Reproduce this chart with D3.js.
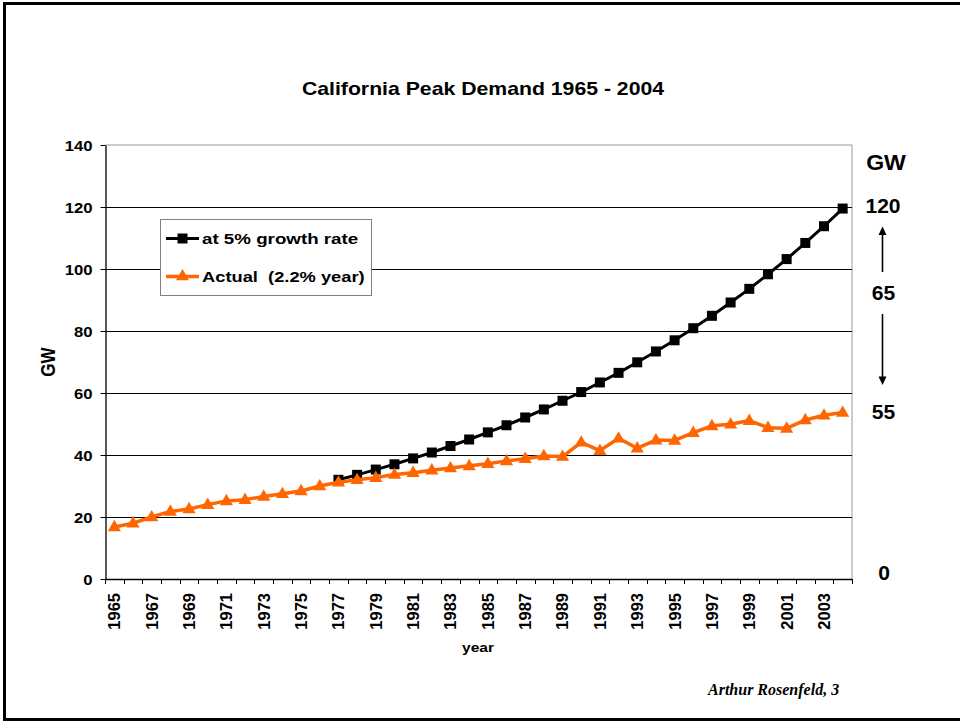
<!DOCTYPE html>
<html><head><meta charset="utf-8">
<script src="https://cdn.jsdelivr.net/npm/d3@7"></script>
<style>html,body{margin:0;padding:0;background:#fff;}svg{display:block;}text{white-space:pre;}</style>
</head><body>
<svg id="chart" width="960" height="721"></svg>
<script>
const years = [1965,1966,1967,1968,1969,1970,1971,1972,1973,1974,1975,1976,1977,1978,1979,1980,1981,1982,1983,1984,1985,1986,1987,1988,1989,1990,1991,1992,1993,1994,1995,1996,1997,1998,1999,2000,2001,2002,2003,2004];
const growth5 = [null,null,null,null,null,null,null,null,null,null,null,null,
  32.0,33.6,35.3,37.0,38.9,40.8,42.9,45.0,47.3,49.6,52.1,54.7,57.5,60.3,63.4,66.5,69.9,73.4,77.0,80.9,84.9,89.2,93.6,98.3,103.2,108.4,113.8,119.5];
const actual = [16.8,18.0,20.0,21.8,22.6,24.0,25.2,25.6,26.6,27.5,28.4,30.0,31.2,32.0,32.7,33.7,34.3,35.1,35.8,36.5,37.2,38.1,38.8,39.7,39.5,44.1,41.4,45.4,42.2,44.8,44.7,47.2,49.4,49.9,51.1,48.8,48.6,51.3,52.8,53.7];
const yTicks = [0,20,40,60,80,100,120,140];
const xLabelYears = [1965,1967,1969,1971,1973,1975,1977,1979,1981,1983,1985,1987,1989,1991,1993,1995,1997,1999,2001,2003];
const seriesNames = ["at 5% growth rate","Actual  (2.2% year)"];
const rightLabels = ["GW","120","65","55","0"];
const titleText = "California Peak Demand 1965 - 2004";

const FONT = "'Liberation Sans', Arial, sans-serif";
const svg = d3.select("#chart");
const L = 105, R = 852, T = 145, B = 579;
const ORANGE = "#FF6600";

// slide border
svg.append("rect").attr("x",4.5).attr("y",3.5).attr("width",962).attr("height",716)
  .attr("fill","none").attr("stroke","#000").attr("stroke-width",3);

const x = d3.scaleBand().domain(years).range([L,R]).padding(0);
const y = d3.scaleLinear().domain([0,140]).range([B,T]);
const cx = d => x(d) + x.bandwidth()/2;

function txt(g, o){
  const t = g.append("text").text(o.text)
    .attr("font-family", o.family || FONT)
    .attr("font-weight", o.weight || "bold")
    .attr("font-style", o.style || "normal")
    .attr("font-size", o.size)
    .attr("text-anchor", o.anchor || "start")
    .attr("fill", o.fill || "#000");
  let tr = `translate(${o.x},${o.y})`;
  if (o.sx && o.sx !== 1) tr += ` scale(${o.sx},1)`;
  if (o.rot) tr += ` rotate(${o.rot})`;
  t.attr("transform", tr);
  if (o.dy) t.attr("dy", o.dy);
  return t;
}

// title
txt(svg,{text:titleText,x:483,y:94.5,size:18,sx:1.18,anchor:"middle"});

// plot area border (top/right gray)
svg.append("path").attr("d",`M${L},${T}H${R}V${B}`).attr("fill","none")
  .attr("stroke","#9a9a9a").attr("stroke-width",1);

// gridlines
svg.append("g").selectAll("line").data(yTicks.filter(v=>v>0 && v<140)).join("line")
  .attr("x1",L).attr("x2",R).attr("y1",d=>Math.round(y(d))+0.5).attr("y2",d=>Math.round(y(d))+0.5)
  .attr("stroke","#000").attr("stroke-width",1);

// y axis
const yAxis = svg.append("g").attr("transform",`translate(${L+0.5},0)`)
  .call(d3.axisLeft(y).tickValues(yTicks).tickSize(5).tickSizeOuter(0));
yAxis.select(".domain").attr("stroke","#000").attr("stroke-width",1.3);
yAxis.selectAll(".tick line").attr("stroke","#000");
yAxis.selectAll(".tick text")
  .attr("font-family",FONT).attr("font-weight","bold").attr("font-size",14.5)
  .attr("fill","#000").attr("x",-11.3).attr("dy","0.36em")
  .attr("transform","scale(1.15,1)");

// x axis line
svg.append("line").attr("x1",L).attr("x2",R).attr("y1",B+0.5).attr("y2",B+0.5)
  .attr("stroke","#000").attr("stroke-width",1.3);
// x ticks at band boundaries
const bounds = years.map(d=>x(d)).concat([x(years[years.length-1])+x.bandwidth()]);
svg.append("g").selectAll("line").data(bounds).join("line")
  .attr("x1",d=>Math.round(d)+0.5).attr("x2",d=>Math.round(d)+0.5)
  .attr("y1",B).attr("y2",B+5).attr("stroke","#000").attr("stroke-width",1);
// x labels
const xl = svg.append("g");
xLabelYears.forEach(yr=>{
  txt(xl,{text:String(yr),x:cx(yr),y:B+14,size:16.5,anchor:"end",rot:-90,dy:"0.36em"});
});

// axis titles
txt(svg,{text:"year",x:478,y:652,size:13,sx:1.2,anchor:"middle"});
txt(svg,{text:"GW",x:48,y:362,size:17,sx:1.2,anchor:"middle",rot:-90,dy:"0.36em"});

// lines
const lineGen = d3.line().defined(d=>d.v!=null).x(d=>cx(d.yr)).y(d=>y(d.v));
const gData = years.map((yr,i)=>({yr, v:growth5[i]}));
const aData = years.map((yr,i)=>({yr, v:actual[i]}));

const tri = d3.symbol().type(d3.symbolTriangle).size(75);

svg.append("path").datum(gData).attr("d",lineGen).attr("fill","none")
  .attr("stroke","#000").attr("stroke-width",3).attr("stroke-linejoin","round");
svg.append("g").selectAll("rect").data(gData.filter(d=>d.v!=null)).join("rect")
  .attr("x",d=>cx(d.yr)-5).attr("y",d=>y(d.v)-5).attr("width",10).attr("height",10)
  .attr("fill","#000");

svg.append("path").datum(aData).attr("d",lineGen).attr("fill","none")
  .attr("stroke",ORANGE).attr("stroke-width",3.5).attr("stroke-linejoin","round");
svg.append("g").selectAll("path").data(aData).join("path")
  .attr("d",tri).attr("transform",d=>`translate(${cx(d.yr)},${y(d.v)+0.5})`)
  .attr("fill",ORANGE);

// legend
const lg = svg.append("g");
lg.append("rect").attr("x",160.5).attr("y",219.5).attr("width",211).attr("height",76)
  .attr("fill","#fff").attr("stroke","#808080").attr("stroke-width",1);
lg.append("line").attr("x1",166).attr("x2",199).attr("y1",238.5).attr("y2",238.5)
  .attr("stroke","#000").attr("stroke-width",3);
lg.append("rect").attr("x",177.5).attr("y",233.5).attr("width",10).attr("height",10).attr("fill","#000");
lg.append("line").attr("x1",166).attr("x2",199).attr("y1",276.5).attr("y2",276.5)
  .attr("stroke",ORANGE).attr("stroke-width",3.5);
lg.append("path").attr("d",tri).attr("transform","translate(182.5,276.5)").attr("fill",ORANGE);
txt(lg,{text:seriesNames[0],x:202,y:244,size:15,sx:1.25});
txt(lg,{text:seriesNames[1],x:202,y:282,size:15,sx:1.22});

// right annotations
txt(svg,{text:rightLabels[0],x:886,y:169.5,size:22,sx:1.05,anchor:"middle"});
txt(svg,{text:rightLabels[1],x:883,y:212.5,size:19.5,sx:1.08,anchor:"middle"});
txt(svg,{text:rightLabels[2],x:883.5,y:300,size:19.5,sx:1.08,anchor:"middle"});
txt(svg,{text:rightLabels[3],x:883.5,y:418.5,size:19.5,sx:1.08,anchor:"middle"});
txt(svg,{text:rightLabels[4],x:884,y:580,size:19.5,sx:1.08,anchor:"middle"});

// arrows
const ag = svg.append("g");
ag.append("line").attr("x1",882.5).attr("x2",882.5).attr("y1",272).attr("y2",233).attr("stroke","#000").attr("stroke-width",1.6);
ag.append("path").attr("d","M882.5,226.5L878.5,235L886.5,235Z").attr("fill","#000");
ag.append("line").attr("x1",882.5).attr("x2",882.5).attr("y1",314).attr("y2",378).attr("stroke","#000").attr("stroke-width",1.6);
ag.append("path").attr("d","M882.5,385L878.5,376.5L886.5,376.5Z").attr("fill","#000");

// footer
txt(svg,{text:"Arthur Rosenfeld, 3",x:708,y:695,size:16,family:"'Liberation Serif','Times New Roman',serif",style:"italic"});
</script>
</body></html>
